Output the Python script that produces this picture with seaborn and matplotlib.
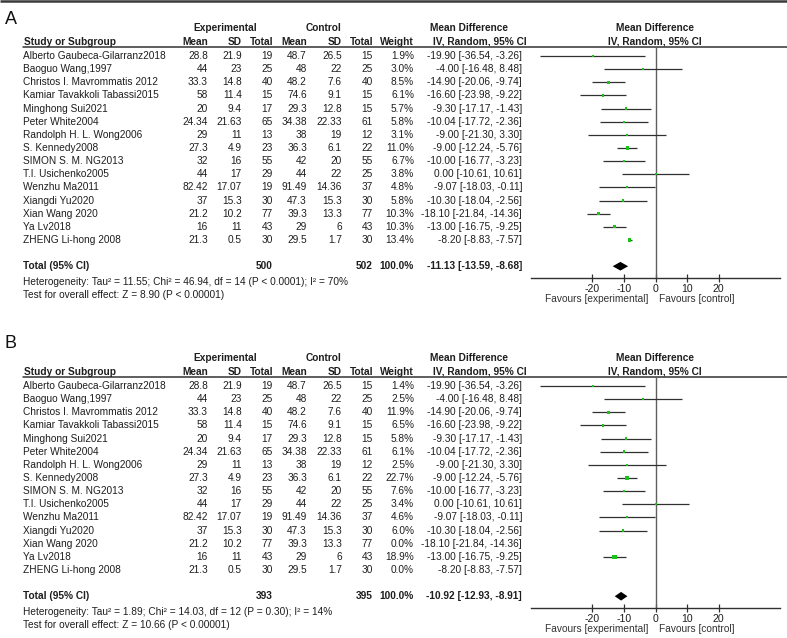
import matplotlib
matplotlib.use("Agg")
import matplotlib.pyplot as plt
import seaborn as sns
import pandas as pd
import numpy as np

sns.set_style("white")
plt.rcParams['font.family'] = ['Liberation Sans', 'DejaVu Sans']
plt.rcParams['axes.unicode_minus'] = False

# ---------------- data ----------------
studies = ["Alberto Gaubeca-Gilarranz2018", "Baoguo Wang,1997", "Christos I. Mavrommatis 2012",
           "Kamiar Tavakkoli Tabassi2015", "Minghong Sui2021", "Peter White2004",
           "Randolph H. L. Wong2006", "S. Kennedy2008", "SIMON S. M. NG2013", "T.I. Usichenko2005",
           "Wenzhu Ma2011", "Xiangdi Yu2020", "Xian Wang 2020", "Ya Lv2018", "ZHENG Li-hong 2008"]
exp_mean = ["28.8", "44", "33.3", "58", "20", "24.34", "29", "27.3", "32", "44", "82.42", "37", "21.2", "16", "21.3"]
exp_sd = ["21.9", "23", "14.8", "11.4", "9.4", "21.63", "11", "4.9", "16", "17", "17.07", "15.3", "10.2", "11", "0.5"]
exp_n = [19, 25, 40, 15, 17, 65, 13, 23, 55, 29, 19, 30, 77, 43, 30]
ctl_mean = ["48.7", "48", "48.2", "74.6", "29.3", "34.38", "38", "36.3", "42", "44", "91.49", "47.3", "39.3", "29", "29.5"]
ctl_sd = ["26.5", "22", "7.6", "9.1", "12.8", "22.33", "19", "6.1", "20", "22", "14.36", "15.3", "13.3", "6", "1.7"]
ctl_n = [15, 25, 40, 15, 15, 61, 12, 22, 55, 25, 37, 30, 77, 43, 30]
md = [-19.90, -4.00, -14.90, -16.60, -9.30, -10.04, -9.00, -9.00, -10.00, 0.00, -9.07, -10.30, -18.10, -13.00, -8.20]
ci_lo = [-36.54, -16.48, -20.06, -23.98, -17.17, -17.72, -21.30, -12.24, -16.77, -10.61, -18.03, -18.04, -21.84, -16.75, -8.83]
ci_hi = [-3.26, 8.48, -9.74, -9.22, -1.43, -2.36, 3.30, -5.76, -3.23, 10.61, -0.11, -2.56, -14.36, -9.25, -7.57]
weight_A = [1.9, 3.0, 8.5, 6.1, 5.7, 5.8, 3.1, 11.0, 6.7, 3.8, 4.8, 5.8, 10.3, 10.3, 13.4]
weight_B = [1.4, 2.5, 11.9, 6.5, 5.8, 6.1, 2.5, 22.7, 7.6, 3.4, 4.6, 6.0, 0.0, 18.9, 0.0]

total_A = dict(ne=500, nc=502, md=-11.13, lo=-13.59, hi=-8.68,
               het="Heterogeneity: Tau\u00b2 = 11.55; Chi\u00b2 = 46.94, df = 14 (P < 0.0001); I\u00b2 = 70%",
               z="Test for overall effect: Z = 8.90 (P < 0.00001)")
total_B = dict(ne=393, nc=395, md=-10.92, lo=-12.93, hi=-8.91,
               het="Heterogeneity: Tau\u00b2 = 1.89; Chi\u00b2 = 14.03, df = 12 (P = 0.30); I\u00b2 = 14%",
               z="Test for overall effect: Z = 10.66 (P < 0.00001)")
ticks = [-20, -10, 0, 10, 20]

# ---------------- figure ----------------
W, H = 787, 638
fig = plt.figure(figsize=(W / 100, H / 100), dpi=100)
bg = fig.add_axes([0, 0, 1, 1])
bg.set_xlim(0, W)
bg.set_ylim(H, 0)
bg.axis("off")

FS = 7.3
TC = "#1e1e1e"
STEP = 13.14
bg.plot([0, W], [0.8, 0.8], color="#3a3a3a", lw=1.8, solid_capstyle="butt")


def fmt_ci(m, lo, hi):
    return f"{m:.2f} [{lo:.2f}, {hi:.2f}]"


def panel(label, label_y, y0, weights, tot):
    bg.text(5, label_y, label, fontsize=13, color="#111111", va="center", ha="left")
    # group headers
    bg.text(225, y0 - 28, "Experimental", fontsize=FS, fontweight="bold", color=TC, ha="center", va="center")
    bg.text(323, y0 - 28, "Control", fontsize=FS, fontweight="bold", color=TC, ha="center", va="center")
    bg.text(430, y0 - 28, "Mean Difference", fontsize=FS, fontweight="bold", color=TC, ha="left", va="center")
    bg.text(655, y0 - 28, "Mean Difference", fontsize=FS, fontweight="bold", color=TC, ha="center", va="center")
    hy = y0 - 14
    bg.text(24, hy, "Study or Subgroup", fontsize=FS, fontweight="bold", color=TC, ha="left", va="center")
    for xr, t in [(208, "Mean"), (242, "SD"), (273, "Total"), (307, "Mean"), (342, "SD"),
                  (373, "Total"), (414, "Weight")]:
        bg.text(xr, hy, t, fontsize=FS, fontweight="bold", color=TC, ha="right", va="center")
    bg.text(433, hy, "IV, Random, 95% CI", fontsize=FS, fontweight="bold", color=TC, ha="left", va="center")
    bg.text(655, hy, "IV, Random, 95% CI", fontsize=FS, fontweight="bold", color=TC, ha="center", va="center")
    bg.plot([23, W], [y0 - 9.5, y0 - 9.5], color="#333333", lw=1.1)

    for i in range(len(studies)):
        y = y0 + STEP * i
        bg.text(23, y, studies[i], fontsize=FS, color=TC, ha="left", va="center")
        vals = [(208, exp_mean[i]), (242, exp_sd[i]), (273, str(exp_n[i])), (307, ctl_mean[i]),
                (342, ctl_sd[i]), (373, str(ctl_n[i])), (414, f"{weights[i]:.1f}%"),
                (522, fmt_ci(md[i], ci_lo[i], ci_hi[i]))]
        for xr, t in vals:
            bg.text(xr, y, t, fontsize=FS, color=TC, ha="right", va="center")

    ty = y0 + STEP * 16
    bg.text(23, ty, "Total (95% CI)", fontsize=FS, fontweight="bold", color=TC, ha="left", va="center")
    for xr, t in [(273, str(tot["ne"])), (373, str(tot["nc"])), (414, "100.0%"),
                  (522, fmt_ci(tot["md"], tot["lo"], tot["hi"]))]:
        bg.text(xr, ty, t, fontsize=FS, fontweight="bold", color=TC, ha="right", va="center")
    bg.text(23, y0 + 226, tot["het"], fontsize=FS, color=TC, ha="left", va="center")
    bg.text(23, y0 + 239, tot["z"], fontsize=FS, color=TC, ha="left", va="center")

    # forest axes
    top_px, bot_px = y0 - 9.5, y0 + 221.5
    left_px, right_px = 531, 780
    ax = fig.add_axes([left_px / W, 1 - bot_px / H, (right_px - left_px) / W, (bot_px - top_px) / H])
    ax.patch.set_alpha(0)
    ax.set_xlim(-39.5, 39.5)
    ax.set_ylim((bot_px - y0) / STEP, (top_px - y0) / STEP)

    df = pd.DataFrame({"row": np.arange(len(studies)), "md": md, "lo": ci_lo, "hi": ci_hi, "w": weights})
    inc = df[df["w"] > 0]
    ax.axvline(0, color="#606060", lw=1.0, zorder=1)
    ax.hlines(inc["row"], inc["lo"], inc["hi"], color="#303030", lw=0.9, zorder=2)
    sns.scatterplot(data=inc, x="md", y="row", size="w", sizes=(0, 12.5), size_norm=(0, 25),
                    marker="s", color="#19c319", linewidth=0, legend=False, ax=ax, zorder=3)
    ax.scatter(inc["md"], inc["row"], s=1.2, marker="s", color="#19c319", linewidths=0, zorder=3)
    r = 16
    ax.fill([tot["lo"], tot["md"], tot["hi"], tot["md"]], [r, r - 0.33, r, r + 0.33],
            color="black", lw=0, zorder=4)

    for s in ["top", "left", "right"]:
        ax.spines[s].set_visible(False)
    ax.spines["bottom"].set_color("#303030")
    ax.spines["bottom"].set_linewidth(1.0)
    ax.set_xticks(ticks)
    ax.set_xticklabels([str(t) for t in ticks])
    ax.tick_params(axis="x", direction="inout", length=6, width=0.9, color="#303030",
                   labelsize=FS + 0.3, labelcolor=TC, pad=1.5, bottom=True)
    ax.set_yticks([])
    ax.set_xlabel("")
    ax.set_ylabel("")

    bg.text(648, y0 + 243.5, "Favours [experimental]", fontsize=FS, color="#333333", ha="right", va="center")
    bg.text(659, y0 + 243.5, "Favours [control]", fontsize=FS, color="#333333", ha="left", va="center")


panel("A", 20, 56, weight_A, total_A)
panel("B", 344, 386, weight_B, total_B)

fig.savefig("out.png", dpi=100)
